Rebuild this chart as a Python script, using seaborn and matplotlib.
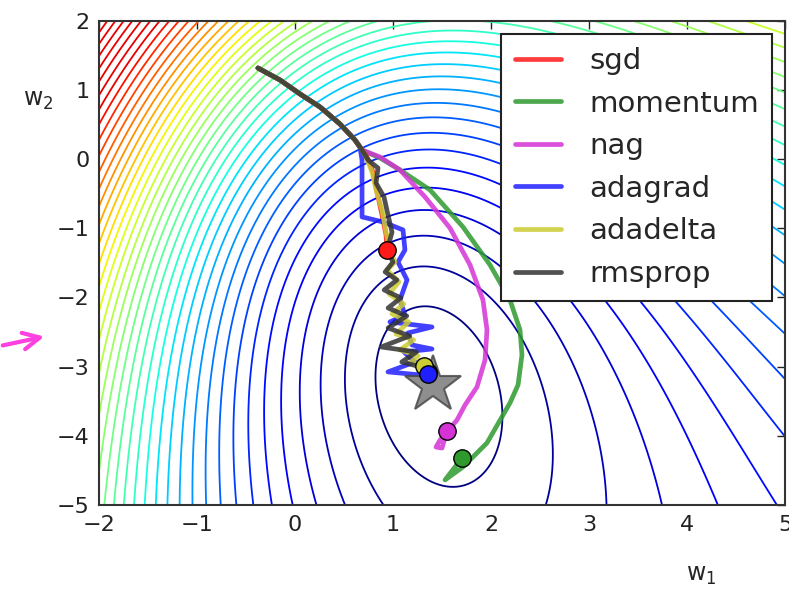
import numpy as np
import matplotlib
matplotlib.use("Agg")
import matplotlib.pyplot as plt
import seaborn as sns

sns.set_style("white")
plt.rcParams["font.family"] = ["DejaVu Sans"]

# ---- loss surface description ----
center = (1.41, -3.27)          # location of the minimum (star)
quad_a, quad_b, quad_c = 4.0, 0.4, 1.0
power = 0.75
scale = 0.72
tilt_x, tilt_y = -0.157, 0.128
compress_start, compress_ratio, compress_width = 30.0, 0.55, 4.0   # flatter growth toward the top-left corner
first_level = 1.0
level_step = 1.0
colour_full = 38.0              # level value that reaches the top of the jet scale
colour_cap = 0.91               # the corner lines stay red rather than dark red

# ---- trajectories (data coordinates) ----
common_x = [-0.378, -0.153, 0.051, 0.255, 0.459, 0.612, 0.684]
common_y = [1.316, 1.143, 0.941, 0.753, 0.507, 0.276, 0.131]

sgd_x = [0.735, 0.796, 0.837, 0.888, 0.929, 0.939]
sgd_y = [0.030, -0.187, -0.476, -0.808, -1.097, -1.314]

momentum_x = [0.867, 1.071, 1.378, 1.714, 1.990, 2.194, 2.296, 2.316, 2.276, 2.194, 1.959, 1.714, 1.531, 1.704]
momentum_y = [0.016, -0.157, -0.446, -0.981, -1.530, -2.036, -2.470, -2.831, -3.264, -3.524, -4.103, -4.450, -4.638, -4.319]

nag_x = [0.867, 1.071, 1.327, 1.582, 1.786, 1.918, 1.959, 1.939, 1.857, 1.735, 1.653, 1.480, 1.439, 1.500, 1.551]
nag_y = [0.030, -0.157, -0.548, -0.998, -1.530, -2.036, -2.470, -2.903, -3.294, -3.555, -3.772, -4.061, -4.162, -4.177, -3.929]

adagrad_x = [0.663, 0.684, 0.684, 0.684, 0.898, 1.102, 1.122, 1.051, 1.143, 1.071, 1.122, 0.969, 1.398, 1.153, 1.194, 1.398, 1.112, 1.224, 0.949, 1.378, 1.357]
adagrad_y = [0.175, -0.013, -0.446, -0.836, -0.909, -1.024, -1.314, -1.488, -1.747, -2.036, -2.253, -2.354, -2.427, -2.513, -2.687, -2.745, -2.788, -2.932, -3.076, -3.134, -3.105]

adadelta_x = [0.724, 0.786, 0.827, 0.888, 0.929, 0.969, 1.020, 0.940, 1.060, 0.960, 1.110, 0.990, 1.160, 1.030, 1.210, 1.071, 1.256, 1.183, 1.316]
adadelta_y = [0.030, -0.187, -0.446, -0.736, -1.054, -1.314, -1.488, -1.603, -1.776, -1.950, -2.094, -2.239, -2.354, -2.528, -2.614, -2.759, -2.846, -2.932, -2.990]

rmsprop_x = [0.745, 0.847, 0.827, 0.908, 0.949, 0.990, 0.940, 1.000, 0.920, 1.040, 0.910, 1.080, 0.950, 1.140, 0.950, 1.170, 0.880, 1.240, 1.090, 1.320, 1.357]
rmsprop_y = [-0.013, -0.129, -0.345, -0.548, -0.808, -1.056, -1.314, -1.488, -1.632, -1.747, -1.892, -2.007, -2.152, -2.268, -2.441, -2.557, -2.716, -2.788, -2.932, -3.019, -3.076]

names = ["sgd", "momentum", "nag", "adagrad", "adadelta", "rmsprop"]
colors = ["#ff1a1a", "#2e9a2e", "#d633d6", "#1f1fff", "#cccc33", "#333333"]
star_x, star_y = 1.41, -3.265

x_ticks = [-2, -1, 0, 1, 2, 3, 4, 5]
y_ticks = [-5, -4, -3, -2, -1, 0, 1, 2]

# ---- figure ----
fig = plt.figure(figsize=(7.89, 5.90), dpi=100)
ax = fig.add_axes([99 / 789, 1 - 505 / 590, (785 - 99) / 789, (505 - 20.7) / 590])

gx = np.linspace(-2, 5, 700)
gy = np.linspace(-5, 2, 700)
X, Y = np.meshgrid(gx, gy)
U = X - center[0]
V = Y - center[1]
Qn = quad_a * U**2 + 2 * quad_b * U * V + quad_c * V**2
F = scale * Qn**power * np.exp(tilt_x * U + tilt_y * V)
G = F - (1 - compress_ratio) * compress_width * np.logaddexp(0, (F - compress_start) / compress_width)
levels = np.arange(first_level, G.max(), level_step)
level_colours = [plt.cm.jet(min(colour_cap, max(0.0, (lv - first_level) / (colour_full - first_level))))
                 for lv in levels]
ax.contour(X, Y, G, levels=levels, colors=level_colours, linewidths=1.3, zorder=1)

paths = {
    "sgd": (common_x + sgd_x, common_y + sgd_y),
    "momentum": (common_x + momentum_x, common_y + momentum_y),
    "nag": (common_x + nag_x, common_y + nag_y),
    "adagrad": (common_x[:-1] + adagrad_x, common_y[:-1] + adagrad_y),
    "adadelta": (common_x + adadelta_x, common_y + adadelta_y),
    "rmsprop": (common_x + rmsprop_x, common_y + rmsprop_y),
}
order = ["momentum", "nag", "sgd", "adagrad", "adadelta", "rmsprop"]
for name in order:
    px, py = paths[name]
    c = colors[names.index(name)]
    sns.lineplot(x=px, y=py, sort=False, estimator=None, color=c, lw=3.4, alpha=0.85, ax=ax, zorder=3)

ax.plot([star_x], [star_y], marker="*", ms=43, color="#7a7a7a", mec="#4a4a4a", mew=1.5, alpha=0.85, zorder=4)
for name in ["momentum", "nag", "sgd", "rmsprop", "adadelta", "adagrad"]:
    px, py = paths[name]
    c = colors[names.index(name)]
    ax.plot([px[-1]], [py[-1]], "o", ms=12.5, color=c, mec="black", mew=1, zorder=5)

ax.set_xlim(-2, 5)
ax.set_ylim(-5, 2)
ax.set_xticks(x_ticks)
ax.set_yticks(y_ticks)
ax.tick_params(direction="in", length=6, width=1, top=True, right=True, labelsize=16, colors="#222222", pad=7)
for s in ax.spines.values():
    s.set_color("#333333")
    s.set_linewidth(1.5)

handles = [plt.Line2D([], [], color=c, lw=3.4, alpha=0.85) for c in colors]
leg = ax.legend(handles, names, loc="upper right", fontsize=21, frameon=True, fancybox=False,
                edgecolor="#222222", framealpha=1, handlelength=1.6, handletextpad=0.95,
                labelspacing=0.5, borderpad=0.45, borderaxespad=0.45)
leg.get_frame().set_linewidth(1.5)
leg.set_zorder(10)

fig.text(23 / 789, 1 - 100 / 590, "w$_2$", fontsize=17, va="center", ha="left")
fig.text(686 / 789, 1 - 575 / 590, "w$_1$", fontsize=17, va="center", ha="left")
fig.patches.append(matplotlib.patches.FancyArrowPatch((0, 1 - 346 / 590), (47 / 789, 1 - 336 / 590),
                   transform=fig.transFigure, arrowstyle="->", mutation_scale=30, color="#ff40e0", lw=3))

fig.savefig("out.png", dpi=100, facecolor="white")
